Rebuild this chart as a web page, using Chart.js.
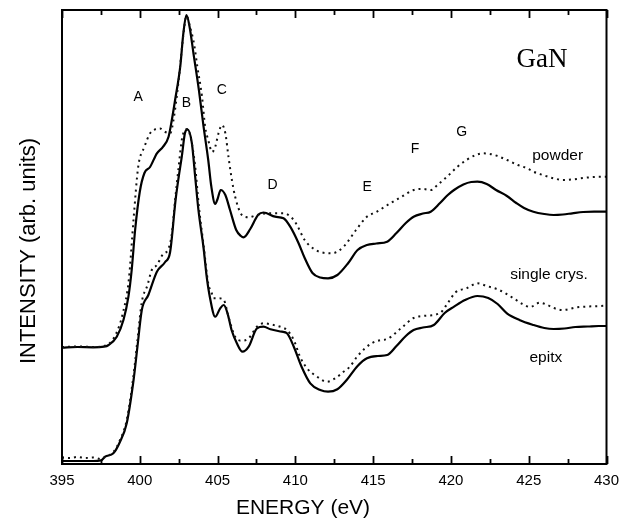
<!DOCTYPE html>
<html><head><meta charset="utf-8">
<script src="https://cdn.jsdelivr.net/npm/chart.js@4/dist/chart.umd.min.js"></script>
<style>html,body{margin:0;padding:0;background:#fff;}canvas{display:block;}</style>
</head><body>
<canvas id="c" width="619" height="523"></canvas>
<script>
// ---- data (energy in eV, intensity in arbitrary units) ----
const tickLabels = [395, 400, 405, 410, 415, 420, 425, 430];

const powderE = [395,396,397,397.7,398.2,398.5,398.9,399.3,399.6,399.9,400.3,400.66,400.98,401.3,401.6,401.95,402.2,402.5,402.8,403.0,403.25,403.5,403.7,404.0,404.2,404.4,404.65,404.85,405.06,405.28,405.5,405.7,405.92,406.13,406.56,407.0,407.53,408.4,409.24,409.8,410.1,410.6,411.3,412.35,413.1,413.9,414.6,415.2,416.1,416.9,417.6,418.2,418.7,419.2,419.75,420.4,421.0,421.6,422.1,422.8,423.6,424.3,424.9,425.3,425.9,426.6,427.2,427.8,428.5,429.2,430];
const powderI = [117,117.5,117,118,123,131,150,185,245,297.3,317.3,330.7,334.7,335.5,332.3,330.7,347.3,384,429,448,436,419,397.3,367.3,337.3,324,312,317.3,330.7,339,330.7,307.3,284,267.3,249,246.7,249,250.7,250.7,245.7,239,224,214,210.7,217.3,234,247.3,252,260.7,268,274,275,274,280,287.3,297,304,309,310.7,309,304,299,295.7,292.3,289,285.7,284,284.5,286,287,287.3];

const epitxUpperE = [395,396,397,397.7,398.0,398.52,398.95,399.27,399.48,399.7,400.0,400.3,400.66,401.1,401.5,401.85,402.06,402.27,402.6,402.8,403.0,403.2,403.45,403.8,404.1,404.4,404.6,404.85,405.0,405.2,405.5,405.8,406.2,406.5,406.67,407.1,407.6,407.95,408.7,409.24,409.67,410.2,410.6,411.1,411.6,412.1,412.7,413.4,414.0,414.6,415.2,415.9,416.5,417.1,417.6,418.2,418.7,419.3,419.8,420.2,420.8,421.3,421.7,422.3,422.9,423.6,424.2,424.7,425.3,426.0,426.6,427.2,427.8,428.5,429.2,430];
const epitxUpperI = [116.3,117,116.7,117.3,119,127.3,144,167.3,194,234,272.3,291,297,310.7,317.3,327.3,344,364,397.3,430.7,449,437.3,410.7,374,337.3,304,277.3,260,265,274,269,254,234,228,226.7,235,249,251.5,247.3,245.7,237.3,221,206,191,186.5,185.7,189,201,214,219,220.5,222.3,231,241,247.3,250.5,252.3,261,269,274,279.5,282,282.3,280,274,268,261,256,252.3,250,249,249.5,250.7,252,252.3,252.3];

const singleCrysE = [395,395.5,396,396.5,397,397.5,397.77,398.3,398.73,399.16,399.6,399.85,400.13,400.5,400.77,401.1,401.5,401.8,402.05,402.27,402.5,402.7,402.9,403.06,403.3,403.55,403.8,404.1,404.4,404.63,404.74,405.06,405.4,405.7,406.13,406.56,407.0,407.53,407.95,408.6,409.13,409.46,409.9,410.3,410.75,411.4,412.03,412.57,413.1,413.5,414.0,414.9,415.5,415.9,416.9,417.6,418.2,419.3,419.8,420.3,421.0,421.7,422.3,423.1,424.0,424.6,425.1,425.7,426.2,426.6,427.2,428.1,428.8,429.6,430];
const singleCrysI = [6.5,6,7,6,6.5,5,7,12,24,44,89,124,162,179,194,199,210,214,229,264,297.3,324,334,335,324,299,257.3,219,180.7,170.7,165.7,165.7,164,147.3,127.3,123.3,125.7,137.3,140.7,139,136.7,134,124,107.3,95.7,87.3,82.3,85.7,92.3,97.3,108,120.7,124,125,137.3,146,148,151,161,171.7,175.7,180.7,178,174,166,160,157,161.3,159,156,154,156.7,157.5,158,158.5];

const epitxLowerE = [395,396,397,397.5,397.77,398.3,398.73,399.16,399.6,399.85,400.13,400.55,401.1,401.63,401.95,402.3,402.5,402.7,402.9,403.06,403.35,403.56,403.77,404.1,404.3,404.5,404.85,405.17,405.4,405.64,405.9,406.24,406.6,407.0,407.53,407.95,408.4,409.13,409.46,409.9,410.4,410.96,411.6,412.1,412.7,413.3,414.0,414.6,415.3,415.9,416.5,417.1,417.6,418.2,418.9,419.6,420.2,420.9,421.7,422.4,423.0,423.6,424.4,425.3,426.0,426.6,427.3,428.0,428.8,429.5,430];
const epitxLowerI = [3,3,3,3.5,7.3,10.7,22.3,40.7,84,117.3,154,169,192.3,202,212,264,287,307.3,330.7,334.7,320.7,287.3,254,216,187.3,167.3,147.3,155.7,159,150.7,134,120.7,112.3,117.3,135.7,137.3,134.7,132.3,130.7,117.3,97.3,80.7,74,72.3,74.7,84,98,105.7,108,109,118,128,134,136.5,139,151,157.3,164,168,166,160,150.7,144,139,136,135,135.5,137,137.5,138,138];

// ---- text annotations (data coordinates) ----
const peakLabels = [
  {t:'A', x:399.9,  y:367},
  {t:'B', x:403.0,  y:361},
  {t:'C', x:405.27, y:374},
  {t:'D', x:408.54, y:279},
  {t:'E', x:414.62, y:277},
  {t:'F', x:417.69, y:315},
  {t:'G', x:420.69, y:332}
];
const seriesLabels = [
  {t:'powder',       x:426.86, y:308},
  {t:'single crys.', x:426.3,  y:189},
  {t:'epitx',        x:426.1,  y:106}
];

function pts(E, I) {
  const n = Math.min(E.length, I.length);
  const out = [];
  for (let i = 0; i < n; i++) out.push({x: E[i], y: I[i]});
  return out;
}

const SANS = '"Liberation Sans", Arial, Helvetica, sans-serif';
Chart.defaults.font.family = SANS;
Chart.defaults.color = '#000';

const frameAndText = {
  id: 'frameAndText',
  afterDraw(chart) {
    const ctx = chart.ctx, a = chart.chartArea;
    const xs = chart.scales.x, ys = chart.scales.y;
    ctx.save();
    ctx.strokeStyle = '#000';
    ctx.lineWidth = 2;
    ctx.strokeRect(a.left, a.top, a.right - a.left, a.bottom - a.top);
    // inward ticks every 2.5 eV on bottom and top
    ctx.lineWidth = 1.8;
    for (let v = 395; v <= 430.001; v += 2.5) {
      const px = Math.round(xs.getPixelForValue(v)) + 0.5;
      const major = Math.abs(v / 5 - Math.round(v / 5)) < 1e-6;
      const L = major ? 8 : 5;
      ctx.beginPath();
      ctx.moveTo(px, a.bottom); ctx.lineTo(px, a.bottom - L);
      ctx.moveTo(px, a.top); ctx.lineTo(px, a.top + L);
      ctx.stroke();
    }
    ctx.fillStyle = '#000';
    ctx.textAlign = 'center';
    ctx.textBaseline = 'middle';
    // x tick labels placed by the x scale
    ctx.font = '15px ' + SANS;
    tickLabels.forEach(v => ctx.fillText(String(v), xs.getPixelForValue(v), a.bottom + 17));
    ctx.font = '14px ' + SANS;
    peakLabels.forEach(p => ctx.fillText(p.t, xs.getPixelForValue(p.x), ys.getPixelForValue(p.y)));
    ctx.font = '15.5px ' + SANS;
    seriesLabels.forEach(p => ctx.fillText(p.t, xs.getPixelForValue(p.x), ys.getPixelForValue(p.y)));
    ctx.font = '27px "Liberation Serif", "Times New Roman", serif';
    ctx.fillText('GaN', xs.getPixelForValue(425.85), ys.getPixelForValue(404));
    // axis titles
    ctx.font = '21px ' + SANS;
    ctx.fillText('ENERGY (eV)', a.left + 241, 508);
    ctx.save();
    ctx.translate(29, 251);
    ctx.rotate(-Math.PI / 2);
    ctx.font = '22px ' + SANS;
    ctx.fillText('INTENSITY (arb. units)', 0, 0);
    ctx.restore();
    ctx.restore();
  }
};

const solid = {borderColor:'#000', borderWidth:2.2, pointRadius:0, fill:false, cubicInterpolationMode:'monotone'};
const dotted = {borderColor:'#111', borderWidth:2, borderDash:[2,4], pointRadius:0, fill:false, cubicInterpolationMode:'monotone'};

new Chart(document.getElementById('c'), {
  type: 'line',
  data: {
    datasets: [
      Object.assign({label:'powder', data: pts(powderE, powderI)}, dotted),
      Object.assign({label:'epitx (upper)', data: pts(epitxUpperE, epitxUpperI)}, solid),
      Object.assign({label:'single crys.', data: pts(singleCrysE, singleCrysI)}, dotted),
      Object.assign({label:'epitx', data: pts(epitxLowerE, epitxLowerI)}, solid)
    ]
  },
  options: {
    responsive: false,
    animation: false,
    devicePixelRatio: 1,
    layout: {padding: {left: 62, right: 12.5, top: 10, bottom: 59}},
    plugins: {legend: {display: false}, tooltip: {enabled: false}},
    scales: {
      x: {type: 'linear', min: 395, max: 430, display: false},
      y: {type: 'linear', min: 0, max: 454, display: false}
    }
  },
  plugins: [frameAndText]
});
</script>
</body></html>
